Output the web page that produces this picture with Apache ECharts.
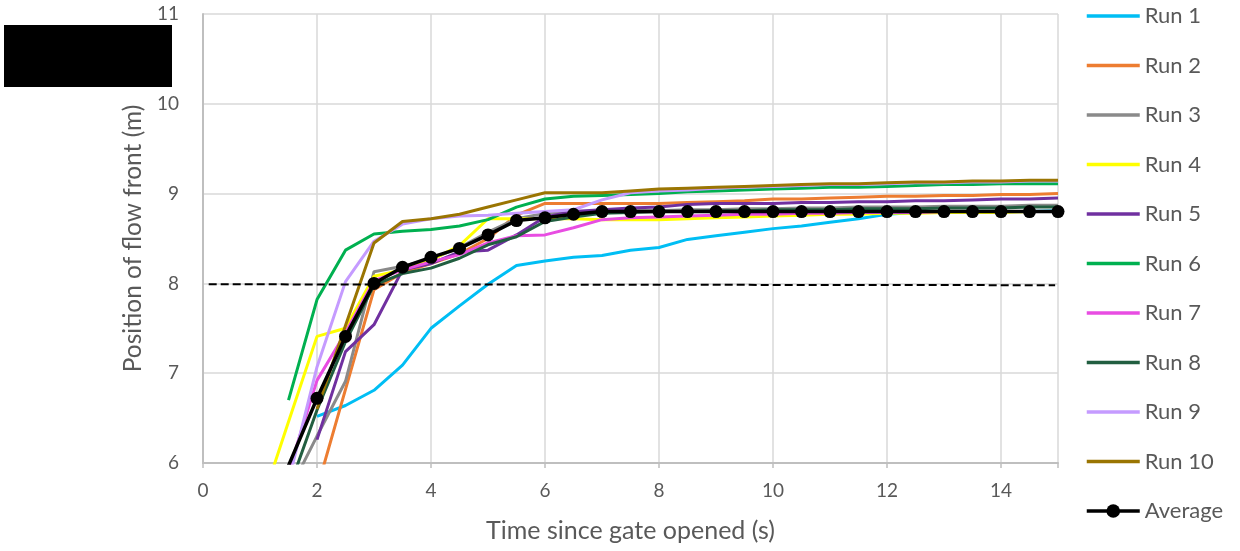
<!DOCTYPE html>
<html><head><meta charset="utf-8">
<script src="https://cdn.jsdelivr.net/npm/echarts@6/dist/echarts.min.js"></script>
<style>html,body{margin:0;padding:0;background:#fff}#chart{width:1240px;height:551px}</style>
</head><body><div id="chart"></div>
<script>
const timeS = [1.0,1.5,2.0,2.5,3.0,3.5,4.0,4.5,5.0,5.5,6.0,6.5,7.0,7.5,8.0,8.5,9.0,9.5,10.0,10.5,11.0,11.5,12.0,12.5,13.0,13.5,14.0,14.5,15.0];
const run1 = [null,null,6.52,6.64,6.81,7.09,7.50,7.75,7.99,8.20,8.25,8.29,8.31,8.37,8.40,8.49,8.53,8.57,8.61,8.64,8.68,8.72,8.77,8.79,8.80,8.80,8.80,8.80,8.81];
const run2 = [null,null,5.71,6.82,7.93,8.12,8.22,8.33,8.50,8.76,8.89,8.89,8.89,8.89,8.89,8.90,8.91,8.92,8.94,8.94,8.95,8.96,8.97,8.97,8.98,8.98,8.99,8.99,9.00];
const run3 = [null,5.67,6.30,6.91,8.13,8.19,8.27,8.40,8.57,8.72,8.78,8.79,8.80,8.81,8.81,8.82,8.82,8.83,8.83,8.84,8.84,8.85,8.85,8.85,8.86,8.86,8.86,8.87,8.87];
const run4 = [5.50,6.46,7.41,7.50,8.08,8.15,8.26,8.42,8.72,8.72,8.72,8.72,8.71,8.71,8.71,8.72,8.73,8.74,8.75,8.76,8.77,8.77,8.78,8.78,8.79,8.79,8.79,8.80,8.80];
const run5 = [null,null,6.26,7.24,7.54,8.15,8.22,8.35,8.37,8.54,8.74,8.80,8.82,8.84,8.85,8.88,8.89,8.89,8.89,8.90,8.90,8.91,8.91,8.92,8.92,8.93,8.94,8.94,8.95];
const run6 = [null,6.70,7.82,8.37,8.55,8.58,8.60,8.64,8.71,8.85,8.94,8.97,8.98,8.99,9.00,9.02,9.03,9.04,9.05,9.06,9.07,9.07,9.08,9.09,9.10,9.10,9.11,9.11,9.11];
const run7 = [null,5.90,6.92,7.45,8.03,8.15,8.24,8.32,8.45,8.53,8.54,8.62,8.71,8.73,8.74,8.75,8.76,8.77,8.77,8.78,8.78,8.79,8.79,8.79,8.80,8.80,8.80,8.80,8.80];
const run8 = [null,5.70,6.59,7.35,7.98,8.11,8.17,8.28,8.43,8.52,8.69,8.74,8.78,8.79,8.80,8.80,8.81,8.81,8.82,8.82,8.82,8.83,8.83,8.83,8.84,8.84,8.84,8.85,8.85];
const run9 = [null,5.80,7.07,8.02,8.47,8.66,8.72,8.75,8.76,8.78,8.80,8.82,8.93,9.01,9.03,9.04,9.06,9.07,9.08,9.09,9.10,9.10,9.11,9.12,9.12,9.13,9.13,9.14,9.14];
const run10 = [null,null,6.60,7.53,8.45,8.69,8.72,8.77,8.85,8.93,9.01,9.01,9.01,9.03,9.05,9.06,9.07,9.08,9.09,9.10,9.11,9.11,9.12,9.13,9.13,9.14,9.14,9.15,9.15];
const average = [null,5.97,6.72,7.41,8.00,8.18,8.29,8.39,8.54,8.70,8.73,8.77,8.80,8.80,8.80,8.80,8.80,8.80,8.80,8.80,8.80,8.80,8.80,8.80,8.80,8.80,8.80,8.80,8.80];
const targetX = [0.1, 14.95];
const targetY = [7.99, 7.98];
const runNames = ['Run 1','Run 2','Run 3','Run 4','Run 5','Run 6','Run 7','Run 8','Run 9','Run 10'];
const runValues = [run1,run2,run3,run4,run5,run6,run7,run8,run9,run10];
const runColors = ['#00BEF4','#ED7D31','#8A8A8A','#FFFF00','#7030A0','#00B050','#E84DE2','#215E40','#C59BFF','#9A7502'];
const avgName = 'Average';

const FONT = 'Lato';
const TXT = '#595959';
const pairs = arr => timeS.map((t, i) => [t, arr[i]]);

const series = runNames.map((name, k) => ({
  name, type: 'line', data: pairs(runValues[k]),
  symbol: 'none', showSymbol: false,
  lineStyle: { color: runColors[k], width: 3 },
  itemStyle: { color: runColors[k] },
  z: 2 + k * 0.01
}));
series.push({
  name: 'Target', type: 'line',
  data: targetX.map((x, i) => [x, targetY[i]]),
  symbol: 'none', showSymbol: false,
  lineStyle: { color: '#000', width: 2, type: [8, 4] },
  z: 3
});
series.push({
  name: avgName, type: 'line', data: pairs(average),
  symbol: 'circle', symbolSize: 13, showSymbol: true,
  lineStyle: { color: '#000', width: 3.5 },
  itemStyle: { color: '#000' },
  z: 4
});

const legendData = runNames.map(n => ({ name: n, itemStyle: { opacity: 0 } }));
legendData.push({ name: avgName });

const chart = echarts.init(document.getElementById('chart'), null, { renderer: 'canvas' });
chart.setOption({
  animation: false,
  backgroundColor: '#fff',
  textStyle: { fontFamily: FONT },
  grid: { left: 203, right: 182, top: 14, bottom: 88, containLabel: false },
  xAxis: {
    type: 'value', min: 0, max: 15, interval: 2,
    name: 'Time since gate opened (s)', nameLocation: 'middle', nameGap: 55,
    nameTextStyle: { color: TXT, fontSize: 25, fontFamily: FONT },
    axisLine: { show: true, lineStyle: { color: '#BFBFBF', width: 2 } },
    axisTick: { show: true, length: 5, lineStyle: { color: '#BFBFBF', width: 1.5 } },
    axisLabel: { color: TXT, fontSize: 19, fontFamily: FONT, margin: 18,
      formatter: v => (v === 15 ? '' : String(v)) },
    splitLine: { show: true, lineStyle: { color: '#D9D9D9', width: 1.5 } }
  },
  yAxis: {
    type: 'value', min: 6, max: 11, interval: 1,
    name: 'Position of flow front (m)', nameLocation: 'middle', nameGap: 56,
    nameTextStyle: { color: TXT, fontSize: 24.5, fontFamily: FONT },
    axisLine: { show: true, lineStyle: { color: '#BFBFBF', width: 2 } },
    axisTick: { show: false },
    axisLabel: { color: TXT, fontSize: 19, fontFamily: FONT, margin: 24 },
    splitLine: { show: true, lineStyle: { color: '#D9D9D9', width: 1.5 } }
  },
  legend: {
    orient: 'vertical', left: 1085, top: 3, padding: 0,
    itemWidth: 53, itemHeight: 17, itemGap: 23.5,
    data: legendData,
    lineStyle: { width: 3.5 },
    textStyle: { color: TXT, fontSize: 22, lineHeight: 26, fontFamily: FONT },
    selectedMode: false
  },
  graphic: [{
    type: 'rect', left: 4, top: 25, z: 100,
    shape: { width: 168, height: 62 },
    style: { fill: '#000' }
  }],
  series
});
</script></body></html>
